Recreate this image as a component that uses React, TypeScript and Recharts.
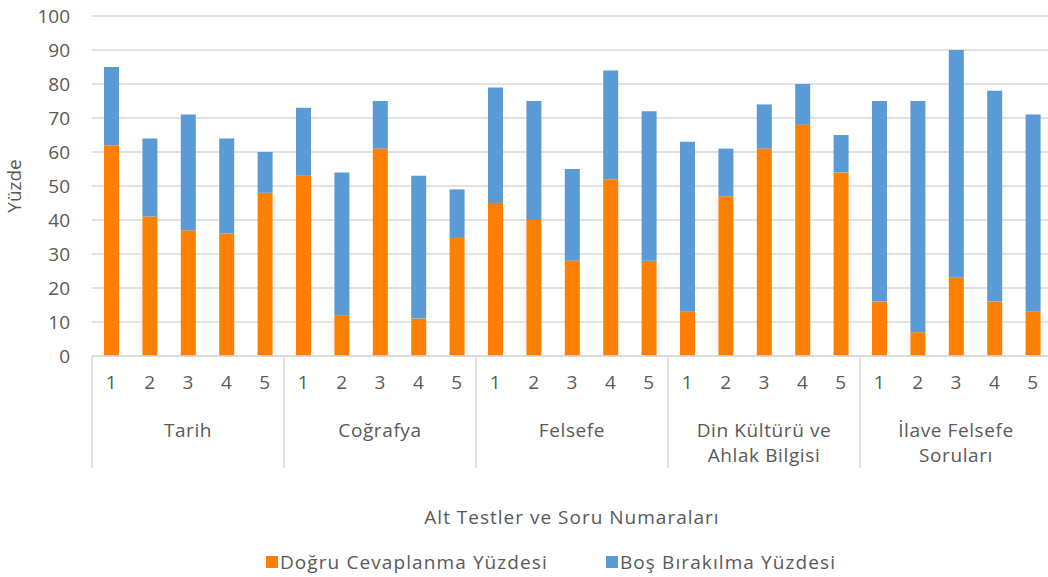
import React from 'react';
import { BarChart, Bar, XAxis, YAxis, CartesianGrid, Legend } from 'recharts';

const groups = ['Tarih', 'Coğrafya', 'Felsefe', 'Din Kültürü ve\nAhlak Bilgisi', 'İlave Felsefe\nSoruları'];
const questions = ['1', '2', '3', '4', '5'];

// Doğru cevaplanma yüzdesi (per question, grouped by alt test)
const dogru = [
  62, 41, 37, 36, 48,
  53, 12, 61, 11, 35,
  45, 40, 28, 52, 28,
  13, 47, 61, 68, 54,
  16, 7, 23, 16, 13,
];

// Boş bırakılma yüzdesi (stacked on top)
const bos = [
  23, 23, 34, 28, 12,
  20, 42, 14, 42, 14,
  34, 35, 27, 32, 44,
  50, 14, 13, 12, 11,
  59, 68, 67, 62, 58,
];

const yTicks = [0, 10, 20, 30, 40, 50, 60, 70, 80, 90, 100];

const data = groups.flatMap((g, gi) =>
  questions.map((q, qi) => ({
    key: `${gi}-${q}`,
    q,
    group: g,
    dogru: dogru[gi * 5 + qi],
    bos: bos[gi * 5 + qi],
  }))
);

const FONT = '"Open Sans", sans-serif';
const TEXT = '#595959';
const GRID = '#d9d9d9';
const ORANGE = '#FF8000';
const BLUE = '#5B9BD5';

const GroupTick = (props: any) => {
  const { x, y, payload, index } = props;
  const band = payload && payload.offset ? payload.offset * 2 : 38.4;
  const i = typeof index === 'number' ? index : payload.index;
  const pos = i % 5;
  const out: React.ReactNode[] = [];
  if (pos === 0) {
    out.push(<line key="l" x1={x - band / 2} x2={x - band / 2} y1={y - 28} y2={y + 84} stroke={GRID} strokeWidth={1.5} />);
  }
  if (i === data.length - 1) {
    out.push(<line key="r" x1={x + band / 2} x2={x + band / 2} y1={y - 28} y2={y + 84} stroke={GRID} strokeWidth={1.5} />);
  }
  if (pos === 2) {
    const lines = groups[Math.floor(i / 5)].split('\n');
    lines.forEach((ln, li) => {
      out.push(
        <text key={`t${li}`} x={x} y={y + 53 + li * 25} textAnchor="middle" fill={TEXT} fontSize={19} fontFamily={FONT} letterSpacing={0.6}>
          {ln}
        </text>
      );
    });
  }
  return <g>{out}</g>;
};

const LegendContent = () => (
  <div style={{ display: 'flex', justifyContent: 'center', paddingLeft: 50, fontFamily: FONT, fontSize: 19, color: TEXT, lineHeight: '26px', letterSpacing: 1.1 }}>
    {[
      { name: 'Doğru Cevaplanma Yüzdesi', color: ORANGE },
      { name: 'Boş Bırakılma Yüzdesi', color: BLUE },
    ].map((it, i) => (
      <div key={it.name} style={{ display: 'flex', alignItems: 'center', marginLeft: i ? 58 : 0 }}>
        <span style={{ width: 12, height: 12, background: it.color, display: 'inline-block', marginRight: 2 }} />
        <span>{it.name}</span>
      </div>
    ))}
  </div>
);

export default function App() {
  return (
    <div style={{ position: 'fixed', left: 0, top: 0, width: 1048, height: 577, overflow: 'hidden', background: '#fff' }}>
      <BarChart
        width={1060}
        height={577}
        data={data}
        margin={{ top: 16, right: 8, bottom: 2, left: 0 }}
        barSize={15}
      >
        <CartesianGrid vertical={false} stroke={GRID} strokeWidth={1.5} />
        <XAxis
          dataKey="q"
          interval={0}
          height={28}
          tickLine={false}
          tickSize={0}
          tickMargin={20}
          axisLine={{ stroke: GRID, strokeWidth: 1.5 }}
          tick={{ fill: TEXT, fontSize: 19, fontFamily: FONT }}
        />
        <XAxis
          xAxisId="grp"
          dataKey="key"
          interval={0}
          height={165}
          tickLine={false}
          tickSize={0}
          tickMargin={0}
          axisLine={false}
          tick={<GroupTick />}
          label={{ value: 'Alt Testler ve Soru Numaraları', position: 'insideBottom', offset: 25, fill: TEXT, fontSize: 19, fontFamily: FONT, letterSpacing: 1 }}
        />
        <YAxis
          width={92}
          domain={[0, 100]}
          ticks={yTicks}
          interval={0}
          tickLine={false}
          axisLine={false}
          tickMargin={16}
          tick={{ fill: TEXT, fontSize: 19, fontFamily: FONT }}
          label={{ value: 'Yüzde', angle: -90, position: 'insideLeft', offset: 14, fill: TEXT, fontSize: 19, fontFamily: FONT, style: { textAnchor: 'middle' } }}
        />
        <Legend verticalAlign="bottom" content={<LegendContent />} />
        <Bar dataKey="dogru" name="Doğru Cevaplanma Yüzdesi" stackId="a" fill={ORANGE} isAnimationActive={false} />
        <Bar dataKey="bos" name="Boş Bırakılma Yüzdesi" stackId="a" fill={BLUE} isAnimationActive={false} />
      </BarChart>
    </div>
  );
}
